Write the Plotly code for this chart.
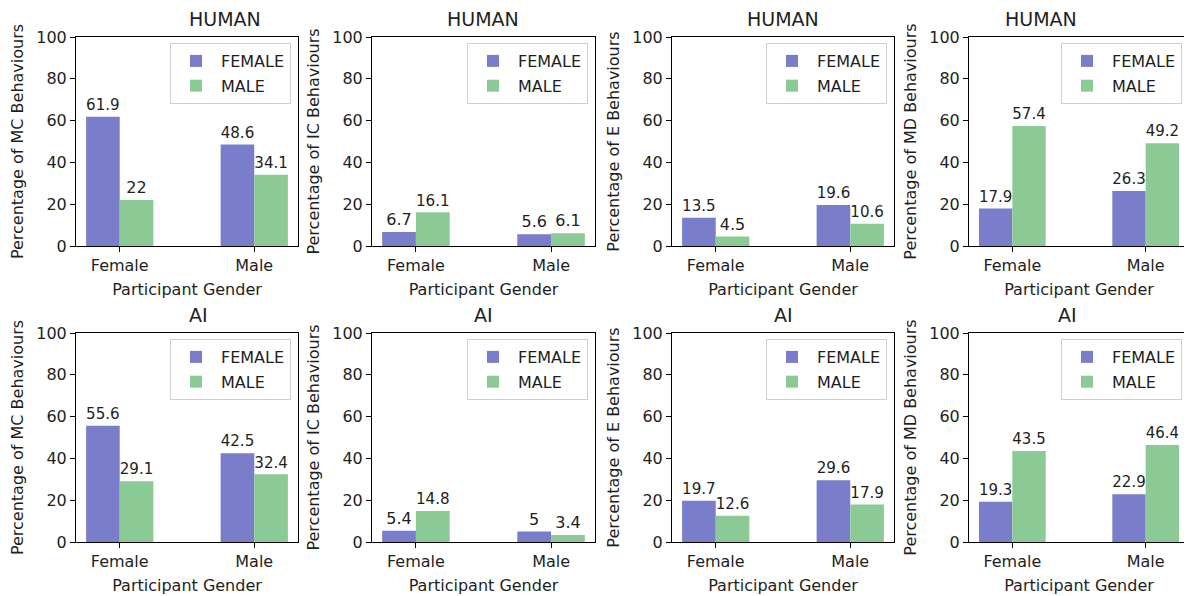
import plotly.graph_objects as go

W, H = 1192, 596
OFF = 8  # page body margin offset

genders = ["Female", "Male"]
row_titles = ["HUMAN", "AI"]
behaviours = ["MC", "IC", "E", "MD"]

# HUMAN row: values for FEMALE series and MALE series at [Female, Male] participants
human_female = {"MC": [61.9, 48.6], "IC": [6.7, 5.6], "E": [13.5, 19.6], "MD": [17.9, 26.3]}
human_male = {"MC": [22, 34.1], "IC": [16.1, 6.1], "E": [4.5, 10.6], "MD": [57.4, 49.2]}
# AI row
ai_female = {"MC": [55.6, 42.5], "IC": [5.4, 5], "E": [19.7, 29.6], "MD": [19.3, 22.9]}
ai_male = {"MC": [29.1, 32.4], "IC": [14.8, 3.4], "E": [12.6, 17.9], "MD": [43.5, 46.4]}

y_ticks = [0, 20, 40, 60, 80, 100]

BLUE = "#797dca"
GREEN = "#8bca94"
TXT = "#1e1e1e"
FONT = "DejaVu Sans"
FS = 16

# pixel boxes of each panel (left, right) and rows (top, bottom) in page pixels
cols_px = [(76, 298), (372, 595), (672, 894), (969, 1189)]
rows_px = [(37, 246), (333, 542)]


def px_x(p):
    return (p - OFF) / W


def px_y(p):
    return 1 - (p - OFF) / H


fig = go.Figure()
data_rows = [(human_female, human_male), (ai_female, ai_male)]

idx = 0
for r, (fem, mal) in enumerate(data_rows):
    for c, b in enumerate(behaviours):
        idx += 1
        xa = "x" if idx == 1 else f"x{idx}"
        ya = "y" if idx == 1 else f"y{idx}"
        lg = "legend" if idx == 1 else f"legend{idx}"
        for name, vals, col in [("FEMALE", fem[b], BLUE), ("MALE", mal[b], GREEN)]:
            fig.add_trace(go.Bar(
                x=[0, 1], y=vals, name=name, marker_color=col,
                marker_line_width=0,
                text=[f"{v:g}" for v in vals], textposition="outside",
                textfont=dict(size=FS, color=TXT, family=FONT),
                cliponaxis=False, xaxis=xa, yaxis=ya, legend=lg,
                legendgroup=f"{name}{idx}",
            ))
        l, rr = cols_px[c]
        t, bt = rows_px[r]
        xd = [px_x(l), px_x(rr)]
        yd = [px_y(bt), px_y(t)]
        axis_common = dict(showline=True, linecolor="#000", linewidth=1, mirror=True,
                           ticks="outside", ticklen=5, tickcolor="#000",
                           showgrid=False, zeroline=False, automargin=False,
                           tickfont=dict(size=FS, color=TXT, family=FONT))
        xkey = "xaxis" if idx == 1 else f"xaxis{idx}"
        ykey = "yaxis" if idx == 1 else f"yaxis{idx}"
        fig.layout[xkey] = dict(domain=xd, anchor=ya, range=[-0.325, 1.325],
                                tickvals=[0, 1], ticktext=genders,
                                title=dict(text="Participant Gender", standoff=9,
                                           font=dict(size=FS, color=TXT, family=FONT)),
                                **axis_common)
        fig.layout[ykey] = dict(domain=yd, anchor=xa, range=[0, 100],
                                tickvals=y_ticks,
                                title=dict(text=f"Percentage of {b} Behaviours", standoff=8,
                                           font=dict(size=FS, color=TXT, family=FONT)),
                                **axis_common)
        fig.layout[lg] = dict(x=px_x(rr - 7), y=px_y(t + 6), xanchor="right", yanchor="top",
                              bordercolor="#d0d0d0", borderwidth=1, bgcolor="rgba(255,255,255,0.8)",
                              font=dict(size=FS, color=TXT, family=FONT),
                              itemwidth=40, tracegroupgap=1)
        fig.add_annotation(text=row_titles[r], xref="paper", yref="paper",
                           x=px_x((l + rr) / 2), y=px_y(t), yanchor="bottom",
                           yshift=5, showarrow=False,
                           font=dict(size=19, color=TXT, family=FONT))

fig.update_layout(template="none", width=W, height=H, margin=dict(l=0, r=0, t=0, b=0),
                  paper_bgcolor="white", plot_bgcolor="white",
                  barmode="group", bargap=0.5, bargroupgap=0,
                  font=dict(family=FONT, color=TXT), showlegend=True)

fig.write_html("out.html")
